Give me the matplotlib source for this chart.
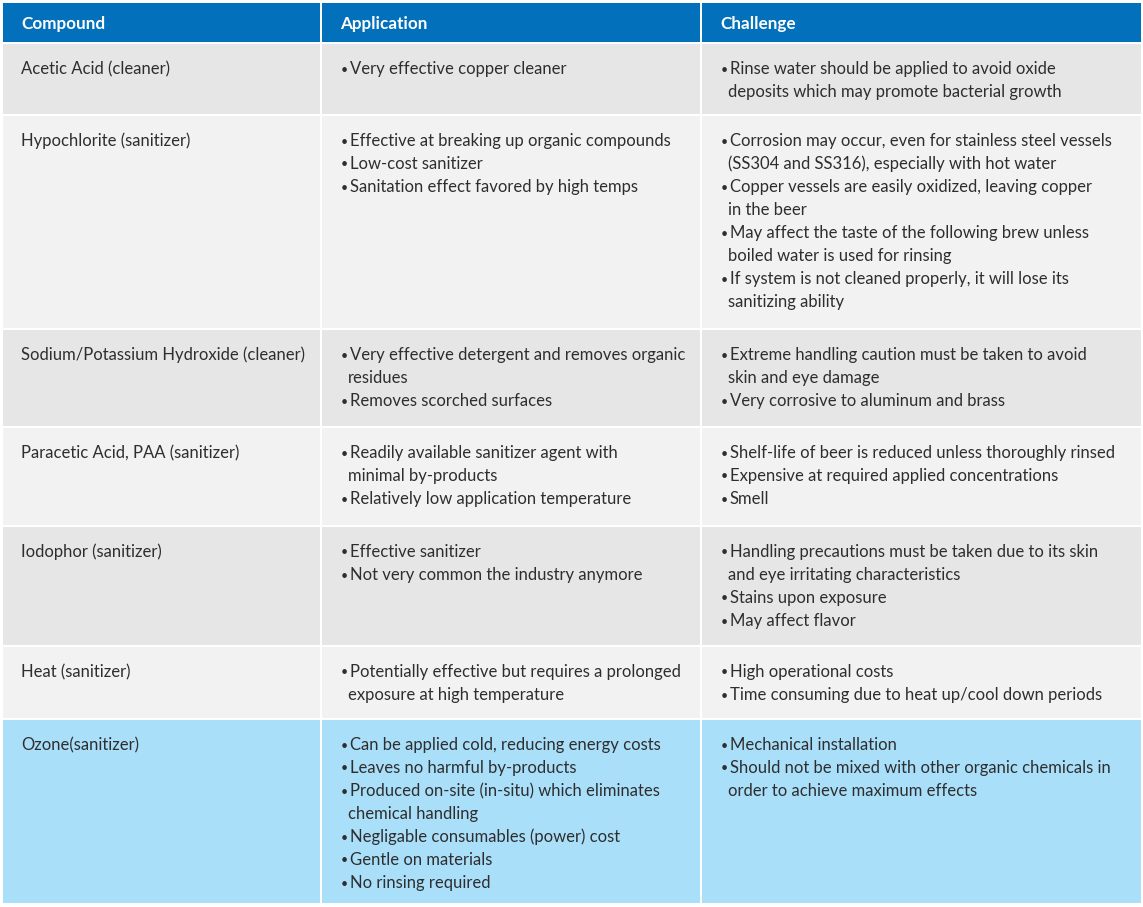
import matplotlib
matplotlib.use("Agg")
import matplotlib.pyplot as plt
from matplotlib.patches import Rectangle

# ---------------- data ----------------
headers = ["Compound", "Application", "Challenge"]

compounds = [
    "Acetic Acid (cleaner)",
    "Hypochlorite (sanitizer)",
    "Sodium/Potassium Hydroxide (cleaner)",
    "Paracetic Acid, PAA (sanitizer)",
    "Iodophor (sanitizer)",
    "Heat (sanitizer)",
    "Ozone(sanitizer)",
]

applications = [
    ["Very effective copper cleaner"],
    ["Effective at breaking up organic compounds",
     "Low-cost sanitizer",
     "Sanitation effect favored by high temps"],
    ["Very effective detergent and removes organic\nresidues",
     "Removes scorched surfaces"],
    ["Readily available sanitizer agent with\nminimal by-products",
     "Relatively low application temperature"],
    ["Effective sanitizer",
     "Not very common the industry anymore"],
    ["Potentially effective but requires a prolonged\nexposure at high temperature"],
    ["Can be applied cold, reducing energy costs",
     "Leaves no harmful by-products",
     "Produced on-site (in-situ) which eliminates\nchemical handling",
     "Negligable consumables (power) cost",
     "Gentle on materials",
     "No rinsing required"],
]

challenges = [
    ["Rinse water should be applied to avoid oxide\ndeposits which may promote bacterial growth"],
    ["Corrosion may occur, even for stainless steel vessels\n(SS304 and SS316), especially with hot water",
     "Copper vessels are easily oxidized, leaving copper\nin the beer",
     "May affect the taste of the following brew unless\nboiled water is used for rinsing",
     "If system is not cleaned properly, it will lose its\nsanitizing ability"],
    ["Extreme handling caution must be taken to avoid\nskin and eye damage",
     "Very corrosive to aluminum and brass"],
    ["Shelf-life of beer is reduced unless thoroughly rinsed",
     "Expensive at required applied concentrations",
     "Smell"],
    ["Handling precautions must be taken due to its skin\nand eye irritating characteristics",
     "Stains upon exposure",
     "May affect flavor"],
    ["High operational costs",
     "Time consuming due to heat up/cool down periods"],
    ["Mechanical installation",
     "Should not be mixed with other organic chemicals in\norder to achieve maximum effects"],
]

highlight_row = 6  # Ozone row

# ---------------- layout (pixels) ----------------
W, H = 1143, 907
col_edges = [(3, 320), (322, 700), (702, 1141)]
header_box = (3, 42)
row_boxes = [(44, 114), (116, 328), (330, 426), (428, 525),
             (527, 645), (647, 718), (720, 903)]

HEADER_BG = "#0270BA"
ROW_BG = ["#E6E6E6", "#F2F2F2"]
HIGHLIGHT_BG = "#AADFFA"
TEXT_C = "#2E2E2E"
LINE_H = 23
FS = 12.0
HFS = 12.3
FONT = ["Lato", "DejaVu Sans"]
BASE = 30

fig = plt.figure(figsize=(W / 100, H / 100), dpi=100)
ax = fig.add_axes([0, 0, 1, 1])
ax.set_xlim(0, W)
ax.set_ylim(H, 0)
ax.axis("off")
fig.patch.set_facecolor("white")

# header
for (x0, x1), label in zip(col_edges, headers):
    ax.add_patch(Rectangle((x0, header_box[0]), x1 - x0, header_box[1] - header_box[0],
                           facecolor=HEADER_BG, edgecolor="none"))
    ax.text(x0 + 18, header_box[0] + 26.5, label, color="white", fontsize=HFS,
            fontweight="bold", family=FONT, va="baseline", ha="left")


def draw_bullets(x0, y_top, items):
    y = y_top + BASE
    for item in items:
        lines = item.split("\n")
        ax.text(x0 + 19, y - 0.5, "\u2022", color=TEXT_C, fontsize=FS * 0.75,
                family=FONT, va="baseline", ha="left")
        for k, line in enumerate(lines):
            xx = x0 + (28 if k == 0 else 26)
            ax.text(xx, y, line, color=TEXT_C, fontsize=FS, family=FONT,
                    va="baseline", ha="left")
            y += LINE_H


for i, (y0, y1) in enumerate(row_boxes):
    bg = HIGHLIGHT_BG if i == highlight_row else ROW_BG[i % 2]
    for (x0, x1) in col_edges:
        ax.add_patch(Rectangle((x0, y0), x1 - x0, y1 - y0, facecolor=bg, edgecolor="none"))
    ax.text(col_edges[0][0] + 18, y0 + BASE, compounds[i], color=TEXT_C, fontsize=FS,
            family=FONT, va="baseline", ha="left")
    draw_bullets(col_edges[1][0], y0, applications[i])
    draw_bullets(col_edges[2][0], y0, challenges[i])

fig.savefig("out.png", dpi=100, facecolor="white")
